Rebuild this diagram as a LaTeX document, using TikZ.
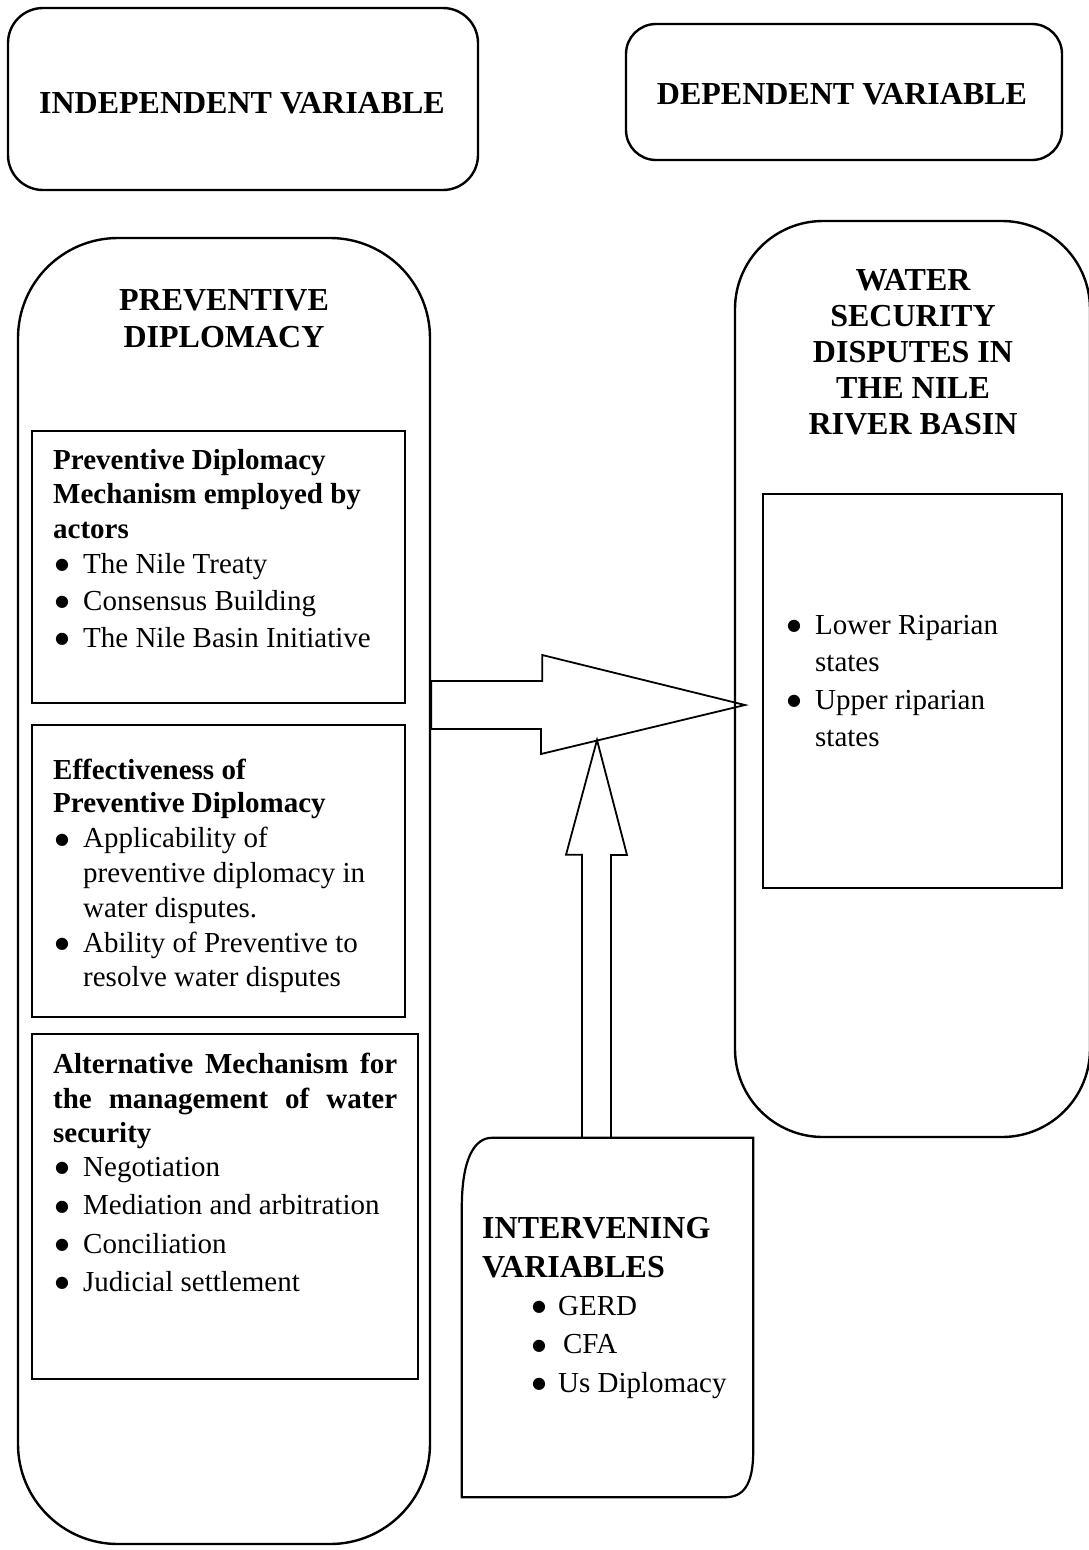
\documentclass[tikz,border=0pt]{standalone}
\usepackage{fontspec}
\setmainfont{Liberation Serif}
\newfontfamily\bltfont{DejaVu Sans}
\usetikzlibrary{positioning,calc}

\newcommand\blt[1][28pt]{\makebox[#1][l]{\raisebox{3.5pt}{\bltfont\fontsize{16}{16}\selectfont ●}}}
\newcommand\cnt{\hspace*{28pt}}

\begin{document}
\begin{tikzpicture}[x=1pt,y=-1pt,
    rbox/.style={draw=black,line width=2.4pt,rounded corners=#1,inner sep=0pt},
    sbox/.style={draw=black,line width=1.8pt,inner sep=0pt},
    title/.style={font=\fontsize{32}{36}\selectfont\bfseries,inner sep=0pt,anchor=base},
    head/.style={font=\fontsize{32}{#1}\selectfont\bfseries,align=center,inner sep=0pt,anchor=north},
    bhead/.style={font=\fontsize{29}{#1}\selectfont\bfseries,align=left,inner sep=0pt,anchor=north west},
    items/.style={font=\fontsize{29}{#1}\selectfont,align=left,inner sep=0pt,anchor=north west},
    blkarrow/.style={draw=black,line width=1.8pt,line join=miter}]
  \useasboundingbox (0,0) rectangle (1088,1550);

  % variable labels
  \node[rbox=35, minimum width=470, minimum height=182] (indep) at (243,99) {};
  \node[title] (indept) at (242,113) {INDEPENDENT VARIABLE};
  \node[rbox=30, minimum width=436, minimum height=136] (dep) at (844,92) {};
  \node[title] (dept) at (842,104) {DEPENDENT VARIABLE};

  % independent side
  \node[rbox=100, minimum width=412, minimum height=1306] (pd) at (224,891) {};
  \node[head=37] (pdt) at (224,289) {PREVENTIVE\\DIPLOMACY};

  \node[sbox, minimum width=373, minimum height=272] (mech) at (218.5,567) {};
  \node[bhead=34.5] (mecht) at (53,449) {Preventive Diplomacy\\Mechanism employed by\\actors};
  \node[items=37] (mechl) at (55,553) {\blt The Nile Treaty\\\blt Consensus Building\\\blt The Nile Basin Initiative};

  \node[sbox, minimum width=373, minimum height=292] (eff) at (218.5,871) {};
  \node[bhead=33] (efft) at (53,759) {Effectiveness of\\Preventive Diplomacy};
  \node[items=34.8] (effl) at (55,827) {\blt Applicability of\\\cnt preventive diplomacy in\\\cnt water disputes.\\\blt Ability of Preventive to\\\cnt resolve water disputes};

  \node[sbox, minimum width=386, minimum height=345] (alt) at (225,1206.5) {};
  \node[bhead=34.5] (altt) at (53,1053) {\makebox[344pt][s]{Alternative Mechanism for}\\\makebox[344pt][s]{the management of water}\\security};
  \node[items=38.3] (altl) at (55,1157) {\blt Negotiation\\\blt Mediation and arbitration\\\blt Conciliation\\\blt Judicial settlement};

  % dependent side
  \node[rbox=88, minimum width=355, minimum height=916] (wsd) at (912.5,679) {};
  \node[head=36] (wsdt) at (913,269) {WATER\\SECURITY\\DISPUTES IN\\THE NILE\\RIVER BASIN};
  \node[sbox, minimum width=299, minimum height=394] (ripar) at (912.5,691) {};
  \node[items=37.5] (riparl) at (787,615) {\blt Lower Riparian\\\cnt states\\\blt Upper riparian\\\cnt states};

  % intervening variables
  \node[minimum width=291, minimum height=359, inner sep=0pt] (intv) at (607.5,1317.5) {};
  \draw[line width=2.2pt] (intv.south west) -- ($(intv.north west)+(0,70)$)
    .. controls ($(intv.north west)+(0,18)$) and ($(intv.north west)+(14,0)$) .. ($(intv.north west)+(30,0)$)
    -- (intv.north east) -- ($(intv.south east)+(0,-46)$)
    .. controls ($(intv.south east)+(0,-12)$) and ($(intv.south east)+(-10,0)$) .. ($(intv.south east)+(-28,0)$)
    -- cycle;
  \node[font=\fontsize{32}{39}\selectfont\bfseries,align=left,inner sep=0pt,anchor=north west] (intvt) at (482,1217) {INTERVENING\\VARIABLES};
  \node[items=38.5] (intvl) at (532,1296) {\blt[26pt]GERD\\\blt[26pt]\,CFA\\\blt[26pt]Us Diplomacy};

  % block arrows
  \coordinate (tip) at (745,705);
  \coordinate (upt) at (597,740);
  \draw[blkarrow] ($(pd.east |- tip)+(0,-24)$) -| ++(111,-26) -- (tip) -- ++(-204,49)
    -- ++(0,-25) -- ($(pd.east |- tip)+(0,24)$) -- cycle;
  \draw[blkarrow] ($(upt |- intv.north)+(-15,0)$) |- ++(-16,-283) -- (upt) -- ++(30,115)
    -- ++(-16,0) -- ($(upt |- intv.north)+(14,0)$);
\end{tikzpicture}
\end{document}
